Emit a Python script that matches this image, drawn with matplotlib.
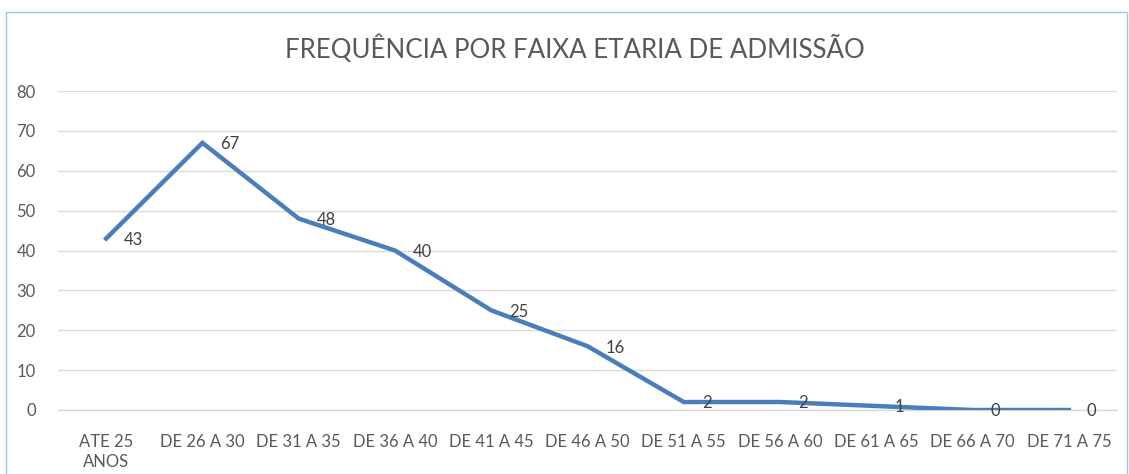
import matplotlib
matplotlib.use("Agg")
import matplotlib.pyplot as plt
from matplotlib.patches import Rectangle

categories = ["ATE 25\nANOS", "DE 26 A 30", "DE 31 A 35", "DE 36 A 40", "DE 41 A 45",
              "DE 46 A 50", "DE 51 A 55", "DE 56 A 60", "DE 61 A 65", "DE 66 A 70", "DE 71 A 75"]
values = [43, 67, 48, 40, 25, 16, 2, 2, 1, 0, 0]
yticks = [0, 10, 20, 30, 40, 50, 60, 70, 80]
title = "FREQUÊNCIA POR FAIXA ETARIA DE ADMISSÃO"

W, H = 1129, 474
fig = plt.figure(figsize=(W / 100, H / 100), dpi=100)
fig.patch.set_facecolor("white")
font = "Lato"
txt = "#595959"

# outer border
fig.add_artist(Rectangle((6 / W, -0.01), (W - 8) / W, (H - 12) / H + 0.01,
                         transform=fig.transFigure, fill=False,
                         edgecolor="#9DC3E6", linewidth=1.0))

ax = fig.add_axes([58 / W, (H - 410) / H, (1117 - 58) / W, (410 - 91) / H])
x = list(range(len(categories)))
ax.plot(x, values, color="#4A7EBB", linewidth=3.2, solid_joinstyle="miter", zorder=3)
for xi, v in zip(x, values):
    ax.annotate(str(v), (xi, v), xytext=(13, -1), textcoords="offset points",
                ha="left", va="center", fontsize=12, color="#404040", family=font, zorder=4)

ax.set_xlim(-0.5, len(categories) - 0.5)
ax.set_ylim(0, 80)
ax.set_yticks(yticks)
ax.set_xticks(x)
ax.set_xticklabels(categories, fontsize=12, color=txt, family=font, linespacing=1.3)
ax.set_yticklabels([str(t) for t in yticks], fontsize=12, color=txt, family=font)
ax.tick_params(axis="both", length=0)
ax.tick_params(axis="y", pad=16)
ax.tick_params(axis="x", pad=17)
ax.grid(axis="y", color="#D9D9D9", linewidth=1.0)
ax.set_axisbelow(True)
for s in ["top", "right", "left"]:
    ax.spines[s].set_visible(False)
ax.spines["bottom"].set_color("#D9D9D9")
ax.spines["bottom"].set_linewidth(1.0)

fig.text((289 + 860) / 2 / W, 1 - 49 / H, title, ha="center", va="center",
         fontsize=18.6, color=txt, family=font, fontweight="normal")

fig.savefig("out.png", dpi=100)
